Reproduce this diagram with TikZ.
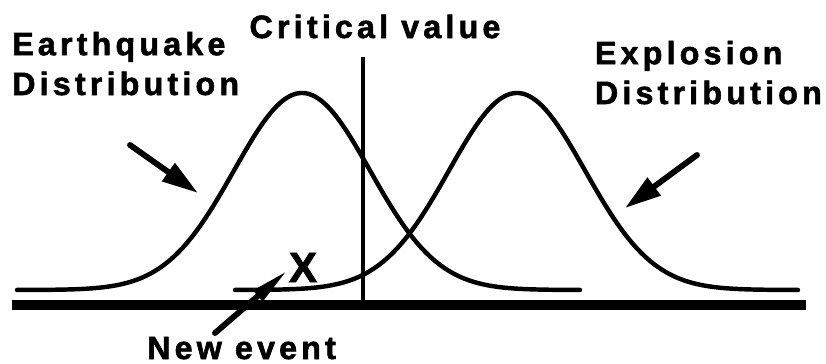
\documentclass[tikz,border=0pt]{standalone}
\usepackage{fontspec}
\setmainfont[LetterSpace=13, BoldFont={Liberation Sans Bold}, BoldFeatures={FakeBold=1.8}]{Liberation Sans}
\usetikzlibrary{arrows.meta}

\tikzset{
  txt/.style={font=\bfseries\fontsize{27.5}{34}\selectfont, inner sep=0pt, align=left},
  curve/.style={line width=3.8pt, line join=round, line cap=round},
  pointer/.style={line width=5pt, line cap=round, -{Triangle[length=31pt,width=18pt]}},
}

\begin{document}
\begin{tikzpicture}[x=0.03cm, y=-0.03cm]
    \useasboundingbox (0,0) rectangle (826,364);

    % axis and critical value
    \draw[line width=8.5pt] (12,305) -- (806,305);
    \coordinate (crittop) at (363,57);
    \coordinate (critbot) at (363,302);
    \draw[line width=2.8pt] (crittop) -- (critbot);

    % the two distributions
    \draw[curve] plot[domain=17:580, samples=120, smooth]
        (\x, {290-197*exp(-0.5*((\x-302)/68)^2)});
    \draw[curve] plot[domain=235:798, samples=120, smooth]
        (\x, {290-197*exp(-0.5*((\x-517)/68)^2)});

    % labels
    \node[txt, anchor=base] (crit) at (375,38) {Critical value};
    \node[txt, anchor=base west] (quake) at (12,95) {Earthquake\\Distribution};
    \node[txt, anchor=base east] (blast) at (822,104) {Explosion\\Distribution};
    \node[txt, anchor=base west] (newev) at (147,359) {New event};
    \node[txt, anchor=base, font=\bfseries\fontsize{36}{40}\selectfont] (xmark) at (303,282) {X};

    % pointers
    \coordinate (quaketail) at (130,145);
    \coordinate (quaketip) at (198,193);
    \coordinate (blasttail) at (697,155);
    \coordinate (blasttip) at (625,208);
    \coordinate (newevtail) at (215,333);
    \coordinate (newevtip) at (288,270);
    \draw[pointer] (quaketail) -- (quaketip);
    \draw[pointer] (blasttail) -- (blasttip);
    \draw[line width=5pt, line cap=round, -{Triangle[length=34pt,width=11pt]}] (newevtail) -- (newevtip);
\end{tikzpicture}
\end{document}
